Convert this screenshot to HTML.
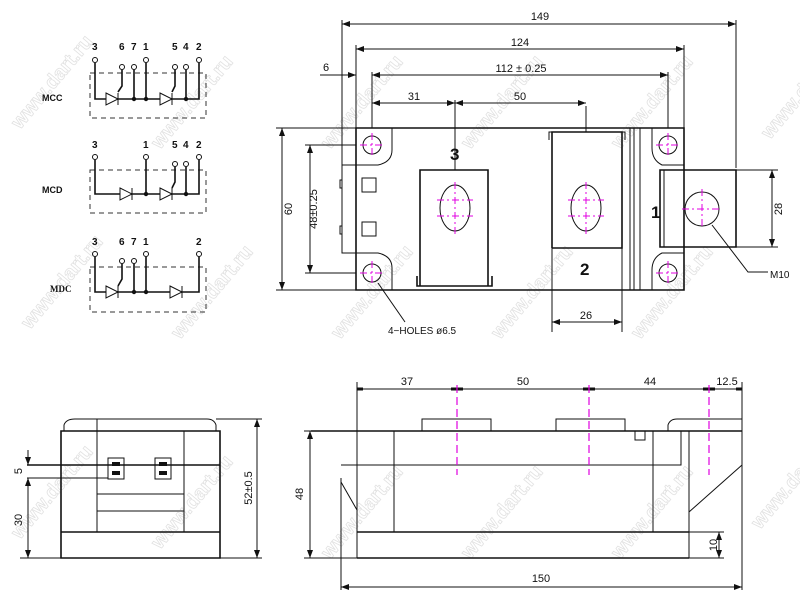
<!DOCTYPE html>
<html><head><meta charset="utf-8"><style>
html,body{margin:0;padding:0;background:#fff}
svg{display:block}
text{font-family:"Liberation Sans",sans-serif;fill:#111}
.l{stroke:#111;stroke-width:1;fill:none}
.t{stroke:#111;stroke-width:1.6;fill:none}
.m{stroke:#e000e0;stroke-width:1;fill:none;stroke-dasharray:7 3 2 3}
.md{stroke:#e000e0;stroke-width:1.2;fill:none;stroke-dasharray:8 4}
.d{stroke:#333;stroke-width:1;fill:none;stroke-dasharray:5 4}
.wm text{font-size:20px;font-weight:bold;fill:none;stroke:#e2e2e2;stroke-width:0.8}
</style></head><body>
<svg width="800" height="609" viewBox="0 0 800 609" xmlns="http://www.w3.org/2000/svg">
<defs>
<marker id="a" markerWidth="8" markerHeight="6" refX="8" refY="3" orient="auto-start-reverse"><path d="M0,0 L8,3 L0,6 z" fill="#111"/></marker>
</defs>
<g class="wm">
<text x="0" y="0" transform="translate(20,130) rotate(-50)">www.dart.ru</text>
<text x="0" y="0" transform="translate(160,150) rotate(-50)">www.dart.ru</text>
<text x="0" y="0" transform="translate(330,150) rotate(-50)">www.dart.ru</text>
<text x="0" y="0" transform="translate(470,150) rotate(-50)">www.dart.ru</text>
<text x="0" y="0" transform="translate(620,150) rotate(-50)">www.dart.ru</text>
<text x="0" y="0" transform="translate(770,140) rotate(-50)">www.dart.ru</text>
<text x="0" y="0" transform="translate(30,330) rotate(-50)">www.dart.ru</text>
<text x="0" y="0" transform="translate(180,340) rotate(-50)">www.dart.ru</text>
<text x="0" y="0" transform="translate(340,340) rotate(-50)">www.dart.ru</text>
<text x="0" y="0" transform="translate(500,340) rotate(-50)">www.dart.ru</text>
<text x="0" y="0" transform="translate(640,340) rotate(-50)">www.dart.ru</text>
<text x="0" y="0" transform="translate(20,540) rotate(-50)">www.dart.ru</text>
<text x="0" y="0" transform="translate(160,550) rotate(-50)">www.dart.ru</text>
<text x="0" y="0" transform="translate(330,560) rotate(-50)">www.dart.ru</text>
<text x="0" y="0" transform="translate(470,560) rotate(-50)">www.dart.ru</text>
<text x="0" y="0" transform="translate(620,560) rotate(-50)">www.dart.ru</text>
<text x="0" y="0" transform="translate(760,530) rotate(-50)">www.dart.ru</text>
</g>

<g font-size="10" font-weight="bold">
<text x="92" y="50">3</text><text x="119" y="50">6</text><text x="131" y="50">7</text><text x="143" y="50">1</text>
<text x="172" y="50">5</text><text x="183" y="50">4</text><text x="196" y="50">2</text>
<text x="42" y="101" font-size="9">MCC</text>
</g>
<g class="l">
<path class="d" d="M90,73 H206 V118 H90 Z"/>
<circle cx="95" cy="60" r="2.5"/><circle cx="122" cy="67" r="2.5"/><circle cx="134" cy="67" r="2.5"/><circle cx="146" cy="60" r="2.5"/>
<circle cx="175" cy="67" r="2.5"/><circle cx="186" cy="67" r="2.5"/><circle cx="199" cy="60" r="2.5"/>
<path class="t" d="M95,63 V99 H199 V63 M134,70 V99 M146,63 V99 M186,70 V99 M122,70 V86 L118,92 M175,70 V86 L172,92"/>
<path d="M106,93 L118,99 L106,105 Z M118,93 V105 M160,93 L172,99 L160,105 Z M172,93 V105" fill="#fff"/>
</g>
<circle cx="134" cy="99" r="2.2" fill="#111"/><circle cx="146" cy="99" r="2.2" fill="#111"/><circle cx="186" cy="99" r="2.2" fill="#111"/>

<g font-size="10" font-weight="bold">
<text x="92" y="148">3</text><text x="143" y="148">1</text>
<text x="172" y="148">5</text><text x="183" y="148">4</text><text x="196" y="148">2</text>
<text x="42" y="193" font-size="9">MCD</text>
</g>
<g class="l">
<path class="d" d="M90,170 H206 V213 H90 Z"/>
<circle cx="95" cy="157" r="2.5"/><circle cx="146" cy="157" r="2.5"/>
<circle cx="175" cy="164" r="2.5"/><circle cx="186" cy="164" r="2.5"/><circle cx="199" cy="157" r="2.5"/>
<path class="t" d="M95,160 V194 H199 V160 M146,160 V194 M186,167 V194 M175,167 V182 L172,188"/>
<path d="M120,188 L132,194 L120,200 Z M132,188 V200 M160,188 L172,194 L160,200 Z M172,188 V200" fill="#fff"/>
</g>
<circle cx="146" cy="194" r="2.2" fill="#111"/><circle cx="186" cy="194" r="2.2" fill="#111"/>

<g font-size="10" font-weight="bold">
<text x="92" y="245">3</text><text x="119" y="245">6</text><text x="131" y="245">7</text><text x="143" y="245">1</text>
<text x="196" y="245">2</text>
</g>
<text x="50" y="292" font-size="9" font-weight="bold" style="font-family:'Liberation Serif',serif">MDC</text>
<g class="l">
<path class="d" d="M90,267 H206 V312 H90 Z"/>
<circle cx="95" cy="254" r="2.5"/><circle cx="122" cy="261" r="2.5"/><circle cx="134" cy="261" r="2.5"/><circle cx="146" cy="254" r="2.5"/>
<circle cx="199" cy="254" r="2.5"/>
<path class="t" d="M95,257 V292 H199 V257 M134,264 V292 M146,257 V292 M122,264 V279 L118,286"/>
<path d="M106,286 L118,292 L106,298 Z M118,286 V298 M170,286 L182,292 L170,298 Z M182,286 V298" fill="#fff"/>
</g>
<circle cx="134" cy="292" r="2.2" fill="#111"/><circle cx="146" cy="292" r="2.2" fill="#111"/>

<g font-size="11">
<text x="540" y="20" text-anchor="middle">149</text>
<text x="520" y="46" text-anchor="middle">124</text>
<text x="521" y="72" text-anchor="middle">112 ± 0.25</text>
<text x="326" y="71" text-anchor="middle">6</text>
<text x="414" y="100" text-anchor="middle">31</text>
<text x="520" y="100" text-anchor="middle">50</text>
<text x="586" y="319" text-anchor="middle">26</text>
<text x="770" y="278" font-size="10">M10</text>
<text x="388" y="334" font-size="10">4−HOLES ø6.5</text>
<text transform="translate(292,209) rotate(-90)" text-anchor="middle">60</text>
<text transform="translate(317,209) rotate(-90)" text-anchor="middle">48±0.25</text>
<text transform="translate(782,209) rotate(-90)" text-anchor="middle">28</text>
</g>
<g font-size="17" font-weight="bold">
<text x="450" y="160">3</text><text x="580" y="275">2</text><text x="651" y="218">1</text>
</g>
<g class="l">
<path d="M342,24 H736" marker-start="url(#a)" marker-end="url(#a)"/>
<path d="M342,20 V165 M736,20 V168"/>
<path d="M356,49 H684" marker-start="url(#a)" marker-end="url(#a)"/>
<path d="M356,45 V128 M684,45 V128"/>
<path d="M372,75 H668" marker-start="url(#a)" marker-end="url(#a)"/>
<path d="M372,72 V128 M668,72 V128"/>
<path d="M320,75 H356" marker-end="url(#a)"/>
<path d="M372,103 H455" marker-start="url(#a)" marker-end="url(#a)"/>
<path d="M455,103 H586" marker-start="url(#a)" marker-end="url(#a)"/>
<path d="M455,100 V170 M586,106 V132"/>
<path d="M282,128 V290" marker-start="url(#a)" marker-end="url(#a)"/>
<path d="M276,128 H356 M276,290 H356"/>
<path d="M310,145 V273" marker-start="url(#a)" marker-end="url(#a)"/>
<path d="M305,145 H356 M305,273 H356"/>
<path d="M772,170 V247" marker-start="url(#a)" marker-end="url(#a)"/>
<path d="M736,170 H778 M736,247 H778"/>
<path d="M552,322 H622" marker-start="url(#a)" marker-end="url(#a)"/>
<path d="M552,248 V332 M622,248 V332"/>
<path class="t" d="M356,128 H684 V290 H356 Z"/>
<path d="M356,165 H342 V253 H356"/>
<path d="M392,128 V150 Q392,162 378,165 H356 M392,290 V268 Q392,256 378,253 H356"/>
<path d="M640,128 V290 M630,128 V290 M634,128 V290"/>
<path d="M684,165 H662 Q652,160 652,148 V128 M684,253 H662 Q652,258 652,270 V290"/>
<rect x="362" y="178" width="14" height="14"/><rect x="362" y="222" width="14" height="14"/>
<path d="M342,180 h-2 v8 h2 M342,226 h-2 v8 h2"/>
<path class="t" d="M420,286 V170 H488 V286"/>
<path class="t" d="M417,276 V286 H492 V276"/>
<ellipse cx="455" cy="208" rx="15" ry="23"/>
<path class="t" d="M552,248 V132 H622 V248 H552"/>
<path d="M549,140 V132 H625 V140"/>
<ellipse cx="586" cy="208" rx="15" ry="23"/>
<path class="t" d="M660,170 H736 V247 H660 Z"/>
<path d="M664,170 V247"/>
<circle cx="702" cy="209" r="17"/>
<circle cx="372" cy="145" r="9"/><circle cx="372" cy="273" r="9"/>
<circle cx="668" cy="145" r="9"/><circle cx="668" cy="273" r="9"/>
<path d="M712,225 L748,272 H768"/>
<path d="M378,283 L405,322"/>
</g>
<g class="m">
<path d="M360,145 H384 M372,133 V157 M360,273 H384 M372,261 V285"/>
<path d="M656,145 H680 M668,133 V157 M656,273 H680 M668,261 V285"/>
<path d="M437,200 H473 M437,216 H473 M455,182 V234"/>
<path d="M568,200 H604 M568,216 H604 M586,182 V234"/>
<path d="M682,209 H722 M702,189 V229"/>
</g>

<g font-size="11">
<text x="407" y="385" text-anchor="middle">37</text>
<text x="523" y="385" text-anchor="middle">50</text>
<text x="650" y="385" text-anchor="middle">44</text>
<text x="727" y="385" text-anchor="middle">12.5</text>
<text x="541" y="582" text-anchor="middle">150</text>
<text transform="translate(303,494) rotate(-90)" text-anchor="middle">48</text>
<text transform="translate(717,545) rotate(-90)" text-anchor="middle">10</text>
</g>
<g class="l">
<path d="M357,389 H457 M457,389 H589 M589,389 H709 M709,389 H742"/>
<path d="M357,389 h6 M457,389 h-6 M457,389 h6 M589,389 h-6 M589,389 h6 M709,389 h-6 M709,389 h6 M742,389 h-6" stroke-width="3"/>
<path d="M357,382 V558 M742,382 V590"/>
<path class="t" d="M311,431 H742"/>
<path d="M422,431 V419 H491 V431 M556,431 V419 H625 V431 M668,431 V425 Q670,419 677,419 H742"/>
<path d="M635,431 V440 H645 V431"/>
<path d="M394,431 V532 M653,431 V532 M689,431 V558"/>
<path class="t" d="M357,532 H689 M357,558 H689"/>
<path d="M341,465 H681 V431"/>
<path d="M742,465 L689,512"/>
<path d="M341,482 L357,510 M341,478 V590"/>
<path d="M310,431 V558" marker-start="url(#a)" marker-end="url(#a)"/>
<path d="M304,431 H330 M304,558 H357"/>
<path d="M341,587 H742" marker-start="url(#a)" marker-end="url(#a)"/>
<path d="M719,532 V558" marker-start="url(#a)" marker-end="url(#a)"/>
<path d="M689,532 H724 M689,558 H724"/>
</g>
<g class="md"><path d="M457,385 V475 M589,385 V475 M709,385 V475"/></g>

<g font-size="11">
<text transform="translate(22,471) rotate(-90)" text-anchor="middle">5</text>
<text transform="translate(22,520) rotate(-90)" text-anchor="middle">30</text>
<text transform="translate(252,488) rotate(-90)" text-anchor="middle">52±0.5</text>
</g>
<g class="l">
<path class="t" d="M61,558 V431 H220 V558 Z"/>
<path d="M64,431 V425 Q66,419 75,419 H207 Q214,419 216,425 V431"/>
<path d="M97,419 V532 M184,431 V532"/>
<path class="t" d="M61,532 H220"/>
<path class="t" d="M27,465 H220"/>
<path d="M97,494 H184 M97,511 H184"/>
<rect x="108" y="458" width="16" height="21"/><rect x="155" y="458" width="16" height="21"/>
<path d="M27,478 H108"/>
<path d="M28,450 V465" marker-end="url(#a)"/>
<path d="M28,478 V558" marker-start="url(#a)" marker-end="url(#a)"/>
<path d="M20,558 H61"/>
<path d="M257,419 V558" marker-start="url(#a)" marker-end="url(#a)"/>
<path d="M216,419 H262 M220,558 H262"/>
</g>
<g fill="#111">
<rect x="112" y="462" width="8" height="4"/><rect x="112" y="471" width="8" height="4"/>
<rect x="159" y="462" width="8" height="4"/><rect x="159" y="471" width="8" height="4"/>
</g>
</svg>
</body></html>
